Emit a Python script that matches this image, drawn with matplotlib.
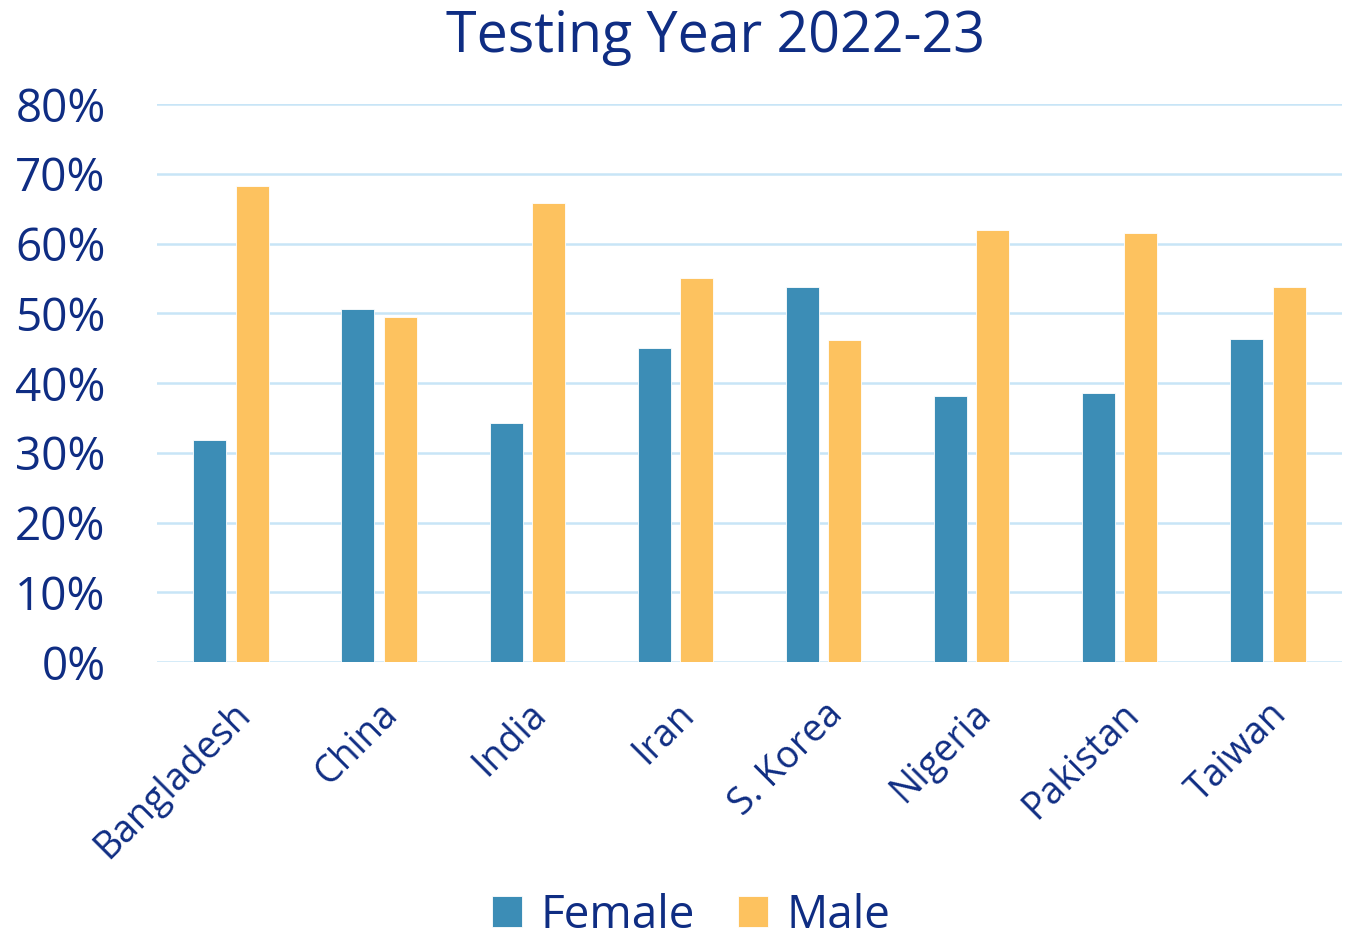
import matplotlib.pyplot as plt
import numpy as np
from matplotlib.ticker import PercentFormatter

countries = ["Bangladesh", "China", "India", "Iran", "S. Korea", "Nigeria", "Pakistan", "Taiwan"]
female = [31.8, 50.6, 34.2, 45.0, 53.8, 38.1, 38.5, 46.3]
male = [68.2, 49.4, 65.8, 55.0, 46.2, 61.9, 61.5, 53.7]

navy = "#0F2D83"
blue = "#3C8DB6"
yellow = "#FDC25F"
grid = "#C8E5F7"

plt.rcParams['font.family'] = ['Open Sans', 'DejaVu Sans']

fig = plt.figure(figsize=(13.45, 9.44), dpi=100)
ax = fig.add_axes([0.1167, 0.2987, 0.881, 0.5911])

x = np.arange(len(countries))
w = 0.223
ax.bar(x - 0.143, female, w, color=blue, edgecolor="white", linewidth=0.6, label="Female", zorder=3)
ax.bar(x + 0.143, male, w, color=yellow, edgecolor="white", linewidth=0.6, label="Male", zorder=3)

ax.set_xlim(-0.5, len(countries) - 0.5)
ax.set_ylim(0, 80)
ax.set_yticks(np.arange(0, 81, 10))
ax.yaxis.set_major_formatter(PercentFormatter(decimals=0))
ax.grid(axis="y", color=grid, linewidth=1.8, zorder=0)
for s in ax.spines.values():
    s.set_visible(False)

ax.tick_params(axis="both", length=0, colors=navy)
ax.tick_params(axis="y", labelsize=33, pad=37)
ax.set_xticks(x)
ax.set_xticklabels(countries, rotation=45, ha="right", rotation_mode="anchor", fontsize=27)
ax.tick_params(axis="x", pad=24)

fig.suptitle("Testing Year 2022-23", x=0.532, y=0.99, fontsize=40, color=navy)

leg = fig.legend(loc="lower center", bbox_to_anchor=(0.514, -0.038), ncol=2, frameon=False,
                 fontsize=33, handlelength=0.65, handleheight=0.65, handletextpad=0.4,
                 columnspacing=0.95)
for t in leg.get_texts():
    t.set_color(navy)

fig.savefig("out.png", dpi=100)
